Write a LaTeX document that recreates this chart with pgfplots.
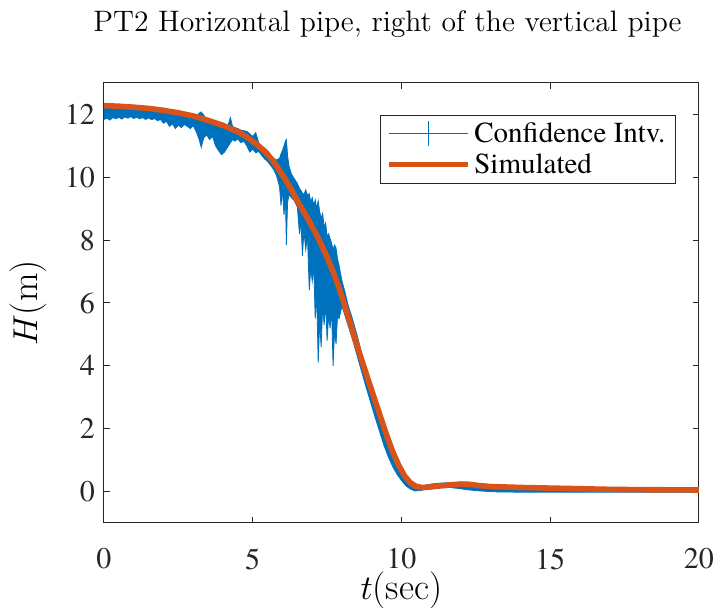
\documentclass[border=0pt]{standalone}
\usepackage{fontspec}
\usepackage{pgfplots}
\usepackage{pgfplotstable}
\pgfplotsset{compat=1.18}
\usepgfplotslibrary{fillbetween}
\newfontfamily\timesrm{texgyretermes-regular.otf}
\definecolor{mblue}{RGB}{0,114,189}
\definecolor{morange}{RGB}{217,83,25}
\definecolor{axgray}{RGB}{38,38,38}

\pgfplotstableread{
t lo hi
0.00 11.84 12.21
0.10 11.88 12.19
0.20 11.82 12.22
0.30 11.90 12.18
0.40 11.86 12.20
0.50 11.91 12.17
0.60 11.85 12.19
0.70 11.92 12.16
0.80 11.88 12.18
0.90 11.93 12.17
1.00 11.87 12.15
1.10 11.91 12.17
1.20 11.86 12.14
1.30 11.90 12.15
1.40 11.84 12.13
1.50 11.89 12.14
1.60 11.83 12.11
1.70 11.87 12.12
1.80 11.80 12.10
1.90 11.84 12.11
2.00 11.72 12.08
2.10 11.78 12.06
2.20 11.62 12.07
2.30 11.70 12.03
2.40 11.55 12.02
2.50 11.66 12.00
2.60 11.58 11.98
2.70 11.68 12.00
2.80 11.62 11.96
2.90 11.55 11.95
3.00 11.64 11.97
3.10 11.45 11.93
3.20 11.20 12.04
3.27 10.95 12.08
3.35 11.25 11.98
3.45 11.35 11.85
3.55 11.20 11.80
3.65 11.30 11.72
3.75 11.00 11.70
3.85 10.85 11.62
3.95 10.72 11.55
4.05 10.80 11.66
4.15 10.95 11.60
4.25 11.10 11.90
4.32 11.20 11.62
4.40 11.15 11.58
4.50 11.22 11.55
4.60 11.10 11.50
4.70 11.15 11.48
4.80 11.00 11.46
4.90 10.80 11.38
5.00 10.90 11.30
5.10 10.78 11.42
5.20 10.82 11.10
5.30 10.70 11.00
5.40 10.58 10.92
5.50 10.50 10.85
5.60 10.38 10.72
5.70 10.25 10.60
5.80 10.05 10.55
5.90 9.70 10.60
5.95 9.10 10.75
6.00 9.60 10.85
6.05 8.80 11.00
6.10 9.30 11.15
6.13 7.85 11.20
6.17 9.20 10.70
6.22 9.45 10.35
6.30 9.35 10.10
6.40 9.25 9.95
6.50 9.05 9.80
6.57 8.20 9.65
6.62 8.60 9.58
6.67 7.50 9.50
6.72 8.30 9.45
6.78 7.70 9.60
6.84 8.10 9.42
6.90 6.40 9.48
6.95 7.10 9.20
7.00 6.70 9.35
7.05 7.20 9.10
7.10 5.50 9.28
7.15 6.30 9.00
7.20 4.10 9.25
7.25 5.40 8.90
7.30 4.60 8.70
7.35 5.90 8.85
7.40 5.30 8.40
7.45 6.00 8.55
7.50 4.80 8.10
7.55 5.60 8.20
7.60 5.20 8.05
7.65 5.80 7.90
7.70 4.00 7.70
7.75 5.10 7.85
7.80 4.70 7.75
7.85 5.60 7.40
7.90 5.50 7.20
8.00 5.90 6.70
8.10 5.60 6.35
8.20 5.30 5.95
8.35 4.85 5.50
8.50 4.35 5.00
8.65 3.85 4.45
8.80 3.35 3.95
8.95 2.88 3.45
9.10 2.40 2.95
9.25 1.95 2.50
9.40 1.50 2.05
9.55 1.12 1.65
9.70 0.80 1.30
9.85 0.55 1.00
10.00 0.35 0.72
10.15 0.18 0.50
10.30 0.08 0.33
10.45 0.02 0.22
10.60 0.03 0.18
10.80 0.06 0.20
11.00 0.09 0.24
11.30 0.12 0.27
11.60 0.13 0.28
11.90 0.10 0.26
12.20 0.06 0.22
12.50 0.03 0.18
12.80 0.01 0.15
13.20 -0.01 0.13
14.00 -0.02 0.11
15.00 -0.02 0.10
16.00 -0.02 0.09
17.00 -0.02 0.08
18.00 -0.02 0.08
19.00 -0.02 0.07
20.00 -0.02 0.07
}\citable

\pgfplotstableread{
t H
0.0 12.28
0.5 12.26
1.0 12.23
1.5 12.19
2.0 12.13
2.5 12.05
3.0 11.95
3.5 11.81
4.0 11.65
4.5 11.45
4.8 11.28
5.1 11.07
5.4 10.83
5.7 10.50
5.9 10.22
6.1 9.92
6.3 9.60
6.5 9.25
6.7 8.93
6.9 8.60
7.1 8.25
7.3 7.87
7.5 7.45
7.7 7.00
7.9 6.48
8.1 5.90
8.3 5.28
8.5 4.65
8.7 4.08
8.9 3.50
9.1 2.93
9.3 2.36
9.5 1.80
9.7 1.28
9.9 0.85
10.1 0.50
10.3 0.28
10.5 0.16
10.7 0.13
10.9 0.14
11.2 0.17
11.6 0.21
12.0 0.24
12.3 0.23
12.6 0.19
13.0 0.16
14.0 0.13
15.0 0.11
16.0 0.09
17.0 0.07
18.0 0.06
20.0 0.05
}\simtable

\begin{document}
\begin{tikzpicture}
\begin{axis}[
  at={(0,0)}, anchor=south west,
  scale only axis, width=297.5pt, height=220pt,
  xmin=0, xmax=20, ymin=-1, ymax=13,
  xtick={0,5,10,15,20}, ytick={0,2,4,6,8,10,12},
  tick align=inside, major tick length=3pt,
  axis line style={axgray, line width=0.5pt},
  tick style={axgray, line width=0.5pt},
  /pgf/number format/assume math mode=true,
  tick label style={font=\timesrm\fontsize{15}{18}\selectfont, text=axgray},
  xticklabel style={inner sep=1pt, yshift=-11.5pt},
  yticklabel style={xshift=-1pt},
  xlabel={$t$(sec)}, ylabel={$H$(m)},
  label style={font=\fontsize{18.5}{22}\selectfont, inner sep=0pt},
  xlabel style={at={(axis description cs:0.5,-0.153)}, anchor=center},
  ylabel style={at={(axis description cs:-0.128,0.5)}, anchor=center},
  title={PT2 Horizontal pipe, right of the vertical pipe},
  title style={font=\fontsize{14.8}{17}\selectfont, inner sep=0pt, yshift=-6pt,
    at={(axis description cs:0.4765,1.1166)}, anchor=base},
  legend style={at={(axis description cs:0.9613,0.9273)}, anchor=north east,
    font=\timesrm\fontsize{14.5}{17}\selectfont, draw=axgray, line width=0.5pt,
    inner xsep=3pt, inner ysep=1.5pt, row sep=0pt},
  legend cell align=left,
]
\addplot[name path=up, draw=mblue, line width=0.4pt, forget plot] table[x=t,y=hi]{\citable};
\addplot[name path=dn, draw=mblue, line width=0.4pt, forget plot] table[x=t,y=lo]{\citable};
\addplot[fill=mblue, draw=none, forget plot] fill between[of=up and dn];
\addlegendimage{legend image code/.code={
  \draw[draw=mblue, line width=0.6pt] (0pt,0pt) -- (39.5pt,0pt);
  \draw[draw=mblue, line width=0.6pt] (19.75pt,-6.25pt) -- (19.75pt,6.25pt);}}
\addlegendentry{Confidence Intv.}
\addplot[morange, line width=2.8pt, line join=round,
  legend image code/.code={\draw[draw=morange, line width=2.5pt] (0pt,0pt) -- (39.5pt,0pt);}]
  table[x=t,y=H]{\simtable};
\addlegendentry{Simulated}
\end{axis}
\path (-52pt,-45.5pt) rectangle (307.5pt,261.5pt);
\end{tikzpicture}
\end{document}
